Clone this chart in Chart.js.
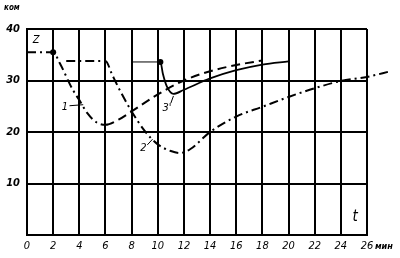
<!DOCTYPE html>
<html>
<head>
<meta charset="utf-8">
<script src="https://cdn.jsdelivr.net/npm/chart.js@4/dist/chart.umd.min.js"></script>
<style>
  html, body { margin: 0; padding: 0; background: #fff; }
  #wrap { width: 400px; height: 258px; }
</style>
</head>
<body>
<div id="wrap"><canvas id="myChart" width="400" height="258"></canvas></div>
<script>
// ---- data ----
// curve 1
let t1 = [0, 2, 2.5, 3.5, 4, 4.6, 5.3, 6, 7, 8, 10, 12, 14, 16, 18]
let z1 = [35.5, 35.5, 33.4, 28.2, 26.2, 23.7, 21.9, 21.4, 22.4, 24, 27.3, 30, 31.8, 33, 33.9]
// curve 2
let t2 = [3, 6, 6.5, 7, 7.5, 8, 9, 10, 11, 11.7, 12.5, 14, 16, 18, 20, 22, 24, 26, 27.8]
let z2 = [33.8, 33.8, 31.2, 28.6, 26.2, 24, 20.2, 17.6, 16.3, 15.9, 16.7, 20, 23, 24.9, 26.8, 28.5, 29.9, 30.7, 31.8]
// curve 3
let t3 = [8, 10.2, 10.4, 10.7, 11.2, 12, 14, 16, 18, 20]
let z3 = [33.6, 33.6, 31.2, 28.8, 27.4, 28.2, 30.4, 32, 33.1, 33.7]

let xTicks = [0, 2, 4, 6, 8, 10, 12, 14, 16, 18, 20, 22, 24, 26]
let yTicks = [10, 20, 30, 40]

let toPts = (xs, ys) => xs.map((x, i) => ({ x: x, y: ys[i] }))

let dashDot = [9, 4, 2, 4]
let dashed = [9, 5]
let family = '"Liberation Sans Narrow", "DejaVu Sans Condensed", "Liberation Sans", sans-serif'

// text labels on the chart
let labels = {
    id: 'labels',
    afterDatasetsDraw(chart) {
        let c = chart.ctx
        let xs = chart.scales.x
        let ys = chart.scales.y
        let a = chart.chartArea
        c.save()
        c.fillStyle = '#000'
        c.strokeStyle = '#000'
        c.lineWidth = 1
        c.font = 'italic 11px ' + family
        c.textAlign = 'center'
        c.textBaseline = 'middle'

        c.fillText('Z', xs.getPixelForValue(0.7), ys.getPixelForValue(37.9))
        c.fillText('1', xs.getPixelForValue(2.9), ys.getPixelForValue(24.8))
        c.fillText('2', xs.getPixelForValue(8.9), ys.getPixelForValue(16.9))
        c.fillText("3'", xs.getPixelForValue(10.7), ys.getPixelForValue(24.6))

        // leaders
        let lead = (x0, y0, x1, y1) => {
            c.beginPath()
            c.moveTo(xs.getPixelForValue(x0), ys.getPixelForValue(y0))
            c.lineTo(xs.getPixelForValue(x1), ys.getPixelForValue(y1))
            c.stroke()
        }
        lead(3.25, 25.1, 4.3, 25.3)
        lead(9.2, 17.5, 9.6, 18.6)
        lead(11.0, 25.6, 11.2, 27.0)

        c.font = 'italic 15px ' + family
        c.fillText('t', xs.getPixelForValue(25.1), ys.getPixelForValue(3.4))

        c.font = 'italic bold 8px ' + family
        c.textAlign = 'left'
        c.fillText('ком', 4, a.top - 21)
        c.font = 'italic bold 9px ' + family
        c.fillText('мин', a.right + 8, a.bottom + 12)
        c.restore()
    }
}

let myChart = document.querySelector('#myChart')

new Chart(myChart, {
    type: 'line',
    data: {
        datasets: [{
            label: '1',
            data: toPts(t1, z1),
            borderColor: '#000',
            borderWidth: 2,
            cubicInterpolationMode: 'monotone',
            pointRadius: ctx => ctx.dataIndex === 1 ? 3 : 0,
            pointBackgroundColor: '#000',
            pointBorderWidth: 0,
            segment: {
                borderDash: ctx => ctx.p0DataIndex < 7 ? dashDot : dashed
            }
        }, {
            label: '2',
            data: toPts(t2, z2),
            borderColor: '#000',
            borderWidth: 2,
            borderDash: dashDot,
            cubicInterpolationMode: 'monotone',
            pointRadius: 0,
            clip: false
        }, {
            label: '3',
            data: toPts(t3, z3),
            borderColor: '#000',
            borderWidth: 1.8,
            cubicInterpolationMode: 'monotone',
            pointRadius: ctx => ctx.dataIndex === 1 ? 3 : 0,
            pointBackgroundColor: '#000',
            pointBorderWidth: 0,
            segment: {
                borderWidth: ctx => ctx.p0DataIndex === 0 ? 1 : 1.8
            }
        }]
    },
    options: {
        responsive: false,
        animation: false,
        events: [],
        layout: { padding: { top: 29, right: 33, left: 0, bottom: 0 } },
        plugins: { legend: { display: false }, tooltip: { enabled: false } },
        scales: {
            x: {
                type: 'linear',
                bounds: 'data',
                // limits set here (not min/max) so curve 2 can run past 26
                afterDataLimits: s => { s.min = 0; s.max = 26 },
                afterFit: s => { s.height = 23 },
                afterBuildTicks: s => { s.ticks = xTicks.map(v => ({ value: v })) },
                grid: { color: '#000', lineWidth: 2, drawTicks: false },
                border: { color: '#000', width: 2 },
                ticks: { color: '#000', stepSize: 2, font: { family: family, style: 'italic', size: 11 }, padding: 5, maxRotation: 0 }
            },
            y: {
                min: 0,
                max: 40,
                afterFit: s => { s.width = 27 },
                afterBuildTicks: s => { s.ticks = [0].concat(yTicks).map(v => ({ value: v })) },
                grid: { color: '#000', lineWidth: 2, drawTicks: false },
                border: { color: '#000', width: 2 },
                ticks: {
                    color: '#000',
                    font: { family: family, style: 'italic', weight: 'bold', size: 11 },
                    padding: 7,
                    callback: v => v === 0 ? '' : v
                }
            }
        }
    },
    plugins: [labels]
})
</script>
</body>
</html>
